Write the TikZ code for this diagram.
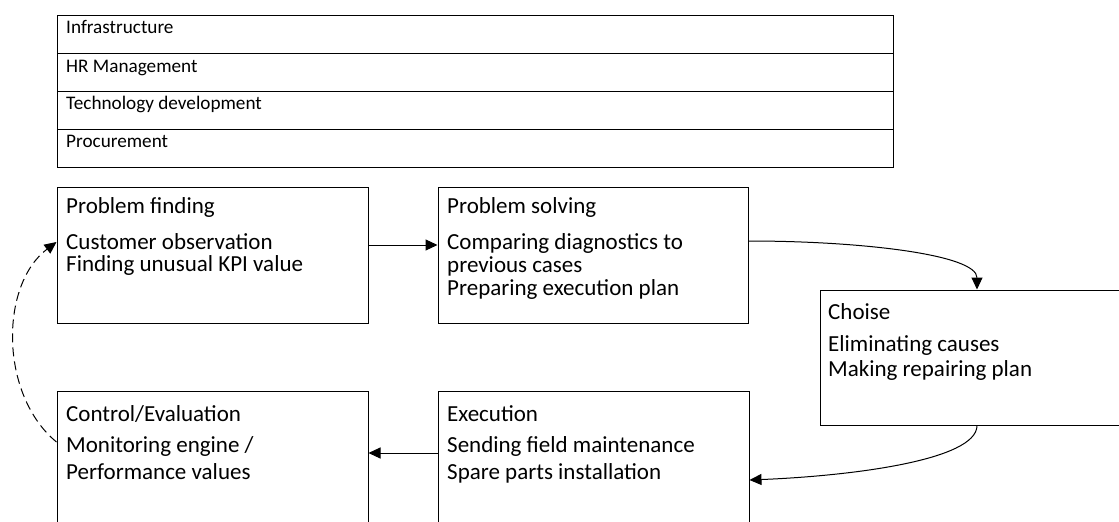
\documentclass[tikz,border=0pt]{standalone}
\usepackage{fontspec}
\setmainfont{Carlito}
\usetikzlibrary{arrows.meta}

\tikzset{
  rowbox/.style={draw, line width=1pt, minimum width=836pt, minimum height=38pt, inner sep=0pt},
  rowtext/.style={anchor=base west, inner sep=0pt, font=\fontsize{19.2}{19.2}\selectfont},
  stepbox/.style={draw, line width=1pt, inner sep=0pt},
  boxtitle/.style={anchor=base west, inner sep=0pt, font=\fontsize{23}{23}\selectfont},
  % the anchor of a multi-line body is the baseline of its last line
  boxbody/.style={anchor=base west, inner sep=0pt, align=left, font=\fontsize{23}{#1}\selectfont},
  boxbody/.default=22,
  flow/.style={line width=1pt, -{Triangle[length=12pt,width=11pt]}},
  backflow/.style={flow, dash pattern=on 9pt off 5pt}
}

\begin{document}
\begin{tikzpicture}[x=1pt, y=-1pt]
  \useasboundingbox (0,0) rectangle (1119,522);
  \clip (0,0) rectangle (1119,522);

  % support activities
  \node[rowbox] (infra) at (475,34)  {};
  \node[rowbox] (hr)    at (475,72)  {};
  \node[rowbox] (tech)  at (475,110) {};
  \node[rowbox] (proc)  at (475,148) {};
  \node[rowtext] (infra-t) at (66,33)  {Infrastructure};
  \node[rowtext] (hr-t)    at (66,72)  {HR Management};
  \node[rowtext] (tech-t)  at (66,109) {Technology development};
  \node[rowtext] (proc-t)  at (66,147) {Procurement};

  % process steps
  \node[stepbox, minimum width=311pt, minimum height=136pt] (pf) at (212.5,255) {};
  \node[stepbox, minimum width=310pt, minimum height=136pt] (ps) at (593,255)   {};
  \node[stepbox, minimum width=314pt, minimum height=135pt] (ch) at (977,357.5) {};
  \node[stepbox, minimum width=311pt, minimum height=136pt] (ce) at (212.5,459) {};
  \node[stepbox, minimum width=311pt, minimum height=136pt] (ex) at (593.5,459) {};

  \node[boxtitle] (pf-t) at (66,213) {Problem finding};
  \node[boxbody]  (pf-b) at (66,271) {Customer observation\\Finding unusual KPI value};

  \node[boxtitle] (ps-t) at (447,213) {Problem solving};
  \node[boxbody=23]  (ps-b) at (447,295) {Comparing diagnostics to\\previous cases\\Preparing execution plan};

  \node[boxtitle]    (ch-t) at (828,319) {Choise};
  \node[boxbody=25]  (ch-b) at (828,376) {Eliminating causes\\Making repairing plan};

  \node[boxtitle]    (ce-t) at (66,421) {Control/Evaluation};
  \node[boxbody=27]  (ce-b) at (66,479) {Monitoring engine /\\Performance values};

  \node[boxtitle]    (ex-t) at (447,421) {Execution};
  \node[boxbody=27]  (ex-b) at (447,479) {Sending field maintenance\\Spare parts installation};

  % connectors
  \draw[flow] ([yshift=10pt]pf.east) -- ([yshift=10pt]ps.west);
  \draw[flow] ([yshift=14pt]ps.east) .. controls +(112,0) and +(0,-35) .. (ch.north);
  \draw[flow] (ch.south) .. controls +(0,35) and +(100,-4) .. ([yshift=-21pt]ex.east);
  \draw[flow] ([yshift=6pt]ex.west) -- ([yshift=6pt]ce.east);
  \draw[backflow] ([yshift=17pt]ce.west) .. controls +(-57,-47) and +(-57,43) .. ([yshift=13pt]pf.west);
\end{tikzpicture}
\end{document}
